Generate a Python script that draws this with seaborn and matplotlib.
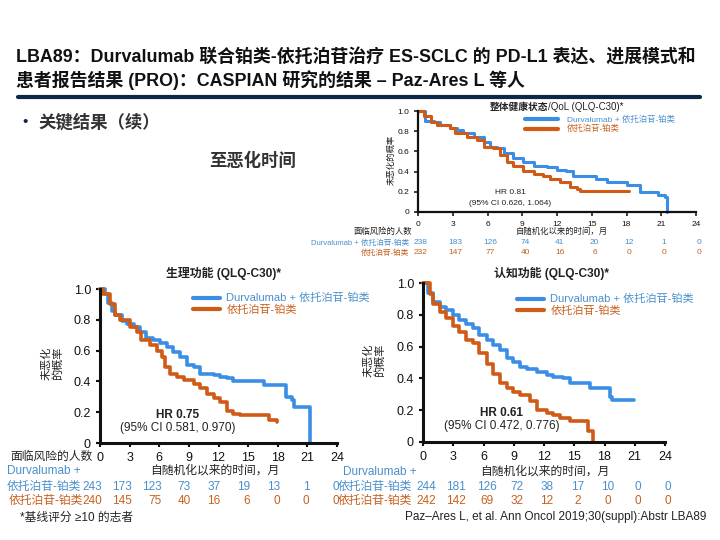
"""
至恶化时间 (TTD) — CASPIAN PRO 结果：三张 Kaplan-Meier 图
"""
import matplotlib
matplotlib.use("Agg")
import matplotlib.pyplot as plt
import matplotlib.transforms as mtransforms
from matplotlib.lines import Line2D
import pandas as pd
import seaborn as sns

sns.set_theme(style="ticks")
plt.rcParams["font.family"] = ["Liberation Sans", "Noto Sans CJK SC"]

BLUE = "#3a8ee6"
ORANGE = "#cf5b16"
BLUE_TXT = "#4a8fcc"
ORANGE_TXT = "#c8601e"
DARK = "#222222"

ARM_DURVA = "Durvalumab + 依托泊苷-铂类"
ARM_EP = "依托泊苷-铂类"

month_ticks = [0, 3, 6, 9, 12, 15, 18, 21, 24]
prob_ticks = [0, 0.2, 0.4, 0.6, 0.8, 1.0]
prob_labels = ["0", "0.2", "0.4", "0.6", "0.8", "1.0"]

# 整体健康状态/QoL
qol_durva_t = [0, 0.6, 1.35, 1.9, 2.8, 3.4, 3.9, 4.8, 5.7, 6.2, 6.8, 7.4, 8.2, 9.1, 10.0,
               11.1, 12.0, 12.8, 13.4, 15.4, 16.3, 18.0, 19.2, 20.7, 21.3, 21.5]
qol_durva_s = [1.0, 0.90, 0.89, 0.86, 0.83, 0.81, 0.78, 0.74, 0.69, 0.64, 0.63, 0.58, 0.53, 0.50, 0.46,
               0.445, 0.42, 0.41, 0.36, 0.33, 0.30, 0.27, 0.20, 0.165, 0.15, 0.0]
qol_ep_t = [0, 0.5, 1.1, 1.6, 2.8, 3.2, 4.2, 5.1, 5.7, 6.5, 7.1, 7.7, 8.2, 9.1, 10.0,
            10.8, 11.4, 12.3, 13.1, 13.7, 14.0, 18.2]
qol_ep_s = [1.0, 0.95, 0.89, 0.86, 0.83, 0.78, 0.74, 0.71, 0.64, 0.63, 0.56, 0.50, 0.46, 0.41, 0.38,
            0.36, 0.33, 0.30, 0.25, 0.23, 0.205, 0.205]
qol_risk_durva = [238, 183, 126, 74, 41, 20, 12, 1, 0]
qol_risk_ep = [232, 147, 77, 40, 16, 6, 0, 0, 0]

# 生理功能
pf_durva_t = [0, 0.5, 0.85, 1.2, 1.5, 2.2, 2.7, 3.4, 4.1, 4.7, 5.4, 6.1, 6.8, 7.4, 8.1, 8.8,
              9.5, 10.1, 11.5, 12.2, 12.9, 13.5, 16.6, 18.8, 19.4, 19.6, 21.3]
pf_durva_s = [1.0, 0.97, 0.91, 0.86, 0.83, 0.79, 0.77, 0.755, 0.72, 0.68, 0.67, 0.65, 0.625, 0.59, 0.56, 0.505,
              0.495, 0.45, 0.44, 0.43, 0.42, 0.40, 0.375, 0.30, 0.28, 0.235, 0.0]
pf_ep_t = [0, 0.35, 1.0, 1.5, 2.0, 3.0, 3.7, 4.2, 5.1, 5.8, 6.3, 6.6, 7.1, 7.8, 8.5, 9.5,
           10.1, 10.8, 11.5, 12.2, 12.9, 13.5, 14.2, 17.1, 17.9]
pf_ep_s = [1.0, 0.97, 0.90, 0.83, 0.80, 0.755, 0.72, 0.67, 0.635, 0.60, 0.56, 0.495, 0.45, 0.43, 0.41, 0.385,
           0.355, 0.32, 0.29, 0.265, 0.21, 0.19, 0.185, 0.15, 0.135]
pf_risk_durva = [243, 173, 123, 73, 37, 19, 13, 1, 0]
pf_risk_ep = [240, 145, 75, 40, 16, 6, 0, 0, 0]

# 认知功能
cf_durva_t = [0, 0.5, 1.0, 1.65, 2.3, 3.0, 3.6, 4.3, 5.0, 5.6, 6.3, 6.95, 7.6, 8.3, 8.9, 9.6,
              10.3, 11.3, 12.25, 12.9, 13.9, 14.6, 16.6, 18.5, 18.7, 20.9]
cf_durva_s = [1.0, 0.94, 0.88, 0.85, 0.83, 0.80, 0.77, 0.74, 0.72, 0.67, 0.64, 0.61, 0.58, 0.53, 0.505, 0.47,
              0.46, 0.44, 0.42, 0.41, 0.40, 0.37, 0.34, 0.285, 0.265, 0.265]
cf_ep_t = [0, 0.65, 1.0, 1.65, 2.3, 3.0, 3.6, 4.3, 5.0, 5.6, 6.3, 6.95, 7.6, 8.3, 8.9, 9.6,
           10.6, 11.3, 12.25, 12.9, 13.6, 14.6, 16.4, 16.9]
cf_ep_s = [1.0, 0.93, 0.87, 0.82, 0.78, 0.73, 0.69, 0.64, 0.62, 0.56, 0.49, 0.43, 0.37, 0.34, 0.315, 0.295,
           0.26, 0.20, 0.18, 0.17, 0.15, 0.135, 0.07, 0.0]
cf_risk_durva = [244, 181, 126, 72, 38, 17, 10, 0, 0]
cf_risk_ep = [242, 142, 69, 32, 12, 2, 0, 0, 0]

W, H = 720, 540
fig = plt.figure(figsize=(7.2, 5.4), dpi=100)


def fx(x):
    return x / W


def fy(y):
    return 1 - y / H


def ftext(x, y, s, **kw):
    fig.text(fx(x), fy(y), s, va="center", **kw)


def km_panel(rect, t_d, s_d, t_e, s_e, lw, tick_size, spine_w):
    ax = fig.add_axes([fx(rect[0]), fy(rect[3]), fx(rect[2] - rect[0]), (rect[3] - rect[1]) / H])
    df = pd.DataFrame({
        "t": t_d + t_e,
        "s": s_d + s_e,
        "arm": [ARM_DURVA] * len(t_d) + [ARM_EP] * len(t_e),
    })
    sns.lineplot(data=df, x="t", y="s", hue="arm", palette={ARM_DURVA: BLUE, ARM_EP: ORANGE},
                 estimator=None, sort=False, drawstyle="steps-post", lw=lw, legend=False,
                 clip_on=False, ax=ax)
    ax.set_xlim(0, 24)
    ax.set_ylim(0, 1)
    ax.set_xticks(month_ticks)
    ax.set_yticks(prob_ticks)
    ax.set_yticklabels(prob_labels)
    ax.set_xlabel("")
    ax.set_ylabel("")
    ax.tick_params(labelsize=tick_size, width=spine_w * 0.7, length=3, colors="#111111")
    for side in ("left", "bottom"):
        ax.spines[side].set_linewidth(spine_w)
        ax.spines[side].set_color("#111111")
    sns.despine(ax=ax)
    return ax


def legend(ax, x, y, size, hlen, pad):
    handles = [Line2D([], [], color=BLUE, lw=3), Line2D([], [], color=ORANGE, lw=3)]
    ax.legend(handles, [ARM_DURVA, ARM_EP], loc="upper left", bbox_to_anchor=(fx(x), fy(y)),
              bbox_transform=fig.transFigure, frameon=False, fontsize=size, handlelength=hlen,
              handletextpad=pad, labelspacing=0.1, borderpad=0, borderaxespad=0,
              labelcolor=[BLUE_TXT, ORANGE_TXT])


def risk_row(ax, values, y, color, size, ha="center", dx=0.0):
    trans = mtransforms.blended_transform_factory(ax.transData, fig.transFigure)
    for m, v in zip(month_ticks, values):
        ax.text(m + dx, fy(y), str(v), transform=trans, ha=ha, va="center",
                fontsize=size, color=color, clip_on=False)


# ---- 标题 ----
ftext(16, 58, "LBA89：Durvalumab 联合铂类-依托泊苷治疗 ES-SCLC 的 PD-L1 表达、进展模式和",
      fontsize=12.9, fontweight="bold", color="#111111")
ftext(16, 80, "患者报告结果 (PRO)：CASPIAN 研究的结果 – Paz-Ares L 等人",
      fontsize=12.9, fontweight="bold", color="#111111")
fig.add_artist(Line2D([fx(18), fx(700)], [fy(97), fy(97)], transform=fig.transFigure,
                      color="#0d2748", lw=3))
ftext(22, 122, "•", fontsize=11, color="#0d2748")
ftext(38, 122, "关键结果（续）", fontsize=12.5, fontweight="bold", color="#333333")
ftext(253, 160, "至恶化时间", fontsize=12.5, fontweight="bold", color="#333333", ha="center")

# ---- 整体健康状态 ----
ax1 = km_panel((418, 111, 696, 212), qol_durva_t, qol_durva_s, qol_ep_t, qol_ep_s, 2.2, 6, 1.6)
ftext(548, 107, "整体健康状态", fontsize=7, fontweight="bold", color=DARK, ha="right")
ftext(548, 107, "/QoL (QLQ-C30)*", fontsize=7, color=DARK, ha="left")
legend(ax1, 525, 116, 6, 4.0, 1.0)
ftext(392, 160, "未恶化的概率", fontsize=6, color=DARK, rotation=90, ha="center")
ftext(510, 193, "HR 0.81", fontsize=6, color=DARK, ha="center")
ftext(510, 203, "(95% CI 0.626, 1.064)", fontsize=6, color=DARK, ha="center")
ftext(562, 232, "自随机化以来的时间，月", fontsize=6, color=DARK, ha="center")
ftext(412, 232, "面临风险的人数", fontsize=6, color=DARK, ha="right")
ftext(409, 243, ARM_DURVA, fontsize=5.5, color=BLUE_TXT, ha="right")
ftext(409, 253, ARM_EP, fontsize=5.5, color=ORANGE_TXT, ha="right")
risk_row(ax1, qol_risk_durva, 243, BLUE_TXT, 6, dx=0.25)
risk_row(ax1, qol_risk_ep, 253, ORANGE_TXT, 6, dx=0.25)

# ---- 生理功能 ----
ax2 = km_panel((100, 289, 337, 443), pf_durva_t, pf_durva_s, pf_ep_t, pf_ep_s, 2.6, 9, 2.2)
ftext(223, 273, "生理功能 (QLQ-C30)*", fontsize=8.6, fontweight="bold", color=DARK, ha="center")
legend(ax2, 193, 293, 8, 2.4, 0.6)
ftext(52, 363, "未恶化\n的概率", fontsize=8, color=DARK, rotation=90, ha="center",
      ma="center", linespacing=1.1)
ftext(178, 415, "HR 0.75", fontsize=8.5, fontweight="bold", color=DARK, ha="center")
ftext(178, 428, "(95% CI 0.581, 0.970)", fontsize=8.5, color=DARK, ha="center")
ftext(93, 457, "面临风险的人数", fontsize=8.5, color=DARK, ha="right")
ftext(215, 471, "自随机化以来的时间，月", fontsize=8.5, color=DARK, ha="center")
ftext(7, 471, "Durvalumab +", fontsize=8.5, color=BLUE_TXT)
ftext(7, 487, ARM_EP, fontsize=8.5, color=BLUE_TXT)
ftext(9, 501, ARM_EP, fontsize=8.5, color=ORANGE_TXT)
risk_row(ax2, pf_risk_durva, 487, BLUE_TXT, 8.5, ha="right", dx=0.2)
risk_row(ax2, pf_risk_ep, 501, ORANGE_TXT, 8.5, ha="right", dx=0.2)
ftext(20, 518, "*基线评分 ≥10 的志者", fontsize=8.5, color=DARK)

# ---- 认知功能 ----
ax3 = km_panel((423, 283, 665, 442), cf_durva_t, cf_durva_s, cf_ep_t, cf_ep_s, 2.6, 9, 2.2)
ftext(552, 273, "认知功能 (QLQ-C30)*", fontsize=8.6, fontweight="bold", color=DARK, ha="center")
legend(ax3, 517, 294, 8, 2.4, 0.6)
ftext(374, 360, "未恶化\n的概率", fontsize=8, color=DARK, rotation=90, ha="center",
      ma="center", linespacing=1.1)
ftext(502, 413, "HR 0.61", fontsize=8.5, fontweight="bold", color=DARK, ha="center")
ftext(502, 426, "(95% CI 0.472, 0.776)", fontsize=8.5, color=DARK, ha="center")
ftext(545, 472, "自随机化以来的时间，月", fontsize=8.5, color=DARK, ha="center")
ftext(343, 472, "Durvalumab +", fontsize=8.5, color=BLUE_TXT)
ftext(412, 487, ARM_EP, fontsize=8.5, color=BLUE_TXT, ha="right")
ftext(412, 501, ARM_EP, fontsize=8.5, color=ORANGE_TXT, ha="right")
risk_row(ax3, cf_risk_durva, 487, BLUE_TXT, 8.5, dx=0.3)
risk_row(ax3, cf_risk_ep, 501, ORANGE_TXT, 8.5, dx=0.3)
ftext(706, 517, "Paz–Ares L, et al. Ann Oncol 2019;30(suppl):Abstr LBA89", fontsize=8.5,
      color=DARK, ha="right")

fig.savefig("out.png", dpi=100)
